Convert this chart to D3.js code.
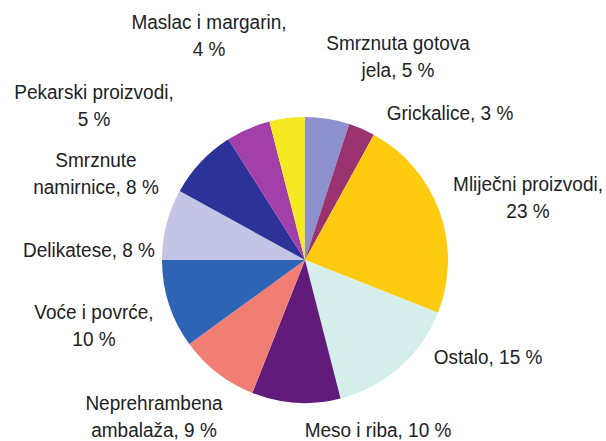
<!DOCTYPE html>
<html>
<head>
<meta charset="utf-8">
<script src="https://cdn.jsdelivr.net/npm/d3@7"></script>
<style>
  body { margin: 0; background: #fff; }
  text { font-family: "Liberation Sans", Arial, sans-serif; fill: #222; }
</style>
</head>
<body>
<div id="chart"></div>
<script>
// podaci
const categories = [
  "Smrznuta gotova jela", "Grickalice", "Mliječni proizvodi", "Ostalo",
  "Meso i riba", "Neprehrambena ambalaža", "Voće i povrće", "Delikatese",
  "Smrznute namirnice", "Pekarski proizvodi", "Maslac i margarin"
];
const values = [5, 3, 23, 15, 10, 9, 10, 8, 8, 5, 4];
const labelLines = [
  ["Smrznuta gotova", "jela, 5 %"],
  ["Grickalice, 3 %"],
  ["Mliječni proizvodi,", "23 %"],
  ["Ostalo, 15 %"],
  ["Meso i riba, 10 %"],
  ["Neprehrambena", "ambalaža, 9 %"],
  ["Voće i povrće,", "10 %"],
  ["Delikatese, 8 %"],
  ["Smrznute", "namirnice, 8 %"],
  ["Pekarski proizvodi,", "5 %"],
  ["Maslac i margarin,", "4 %"]
];
const colors = [
  "#8c90cf", "#9a3270", "#ffcb10", "#d6eeeb", "#621b7b", "#f07e74",
  "#2e64b5", "#c4c4e7", "#2d3299", "#a33fa9", "#f5ea22"
];

// raspored oznaka (sredina prvog reda, relativno na središte kruga)
const labelPos = [
  [93, -217], [145, -147], [223, -76], [183, 97], [73, 170],
  [-151, 143], [-211, 52], [-216, -10], [-209, -100], [-211, -168], [-96, -238]
];

const width = 606, height = 441;
const cx = 305, cy = 260, r = 143;

const svg = d3.select("#chart").append("svg")
  .attr("width", width)
  .attr("height", height);

const g = svg.append("g").attr("transform", `translate(${cx},${cy})`);

const pie = d3.pie().sort(null).value(d => d);
const arc = d3.arc().innerRadius(0).outerRadius(r);

g.selectAll("path")
  .data(pie(values))
  .enter()
  .append("path")
  .attr("d", arc)
  .attr("fill", (d, i) => colors[i]);

// oznake
const lineH = 27, sy = 1.08;
const labels = g.selectAll("text.lbl")
  .data(labelLines)
  .enter()
  .append("text")
  .attr("class", "lbl")
  .attr("text-anchor", "middle")
  .style("font-size", "19px")
  .attr("transform", (d, i) => `translate(${labelPos[i][0]},${labelPos[i][1] + 7}) scale(1,${sy})`);

labels.selectAll("tspan")
  .data(d => d)
  .enter()
  .append("tspan")
  .attr("x", 0)
  .attr("dy", (d, j) => j === 0 ? 0 : lineH / sy)
  .text(d => d);
</script>
</body>
</html>
